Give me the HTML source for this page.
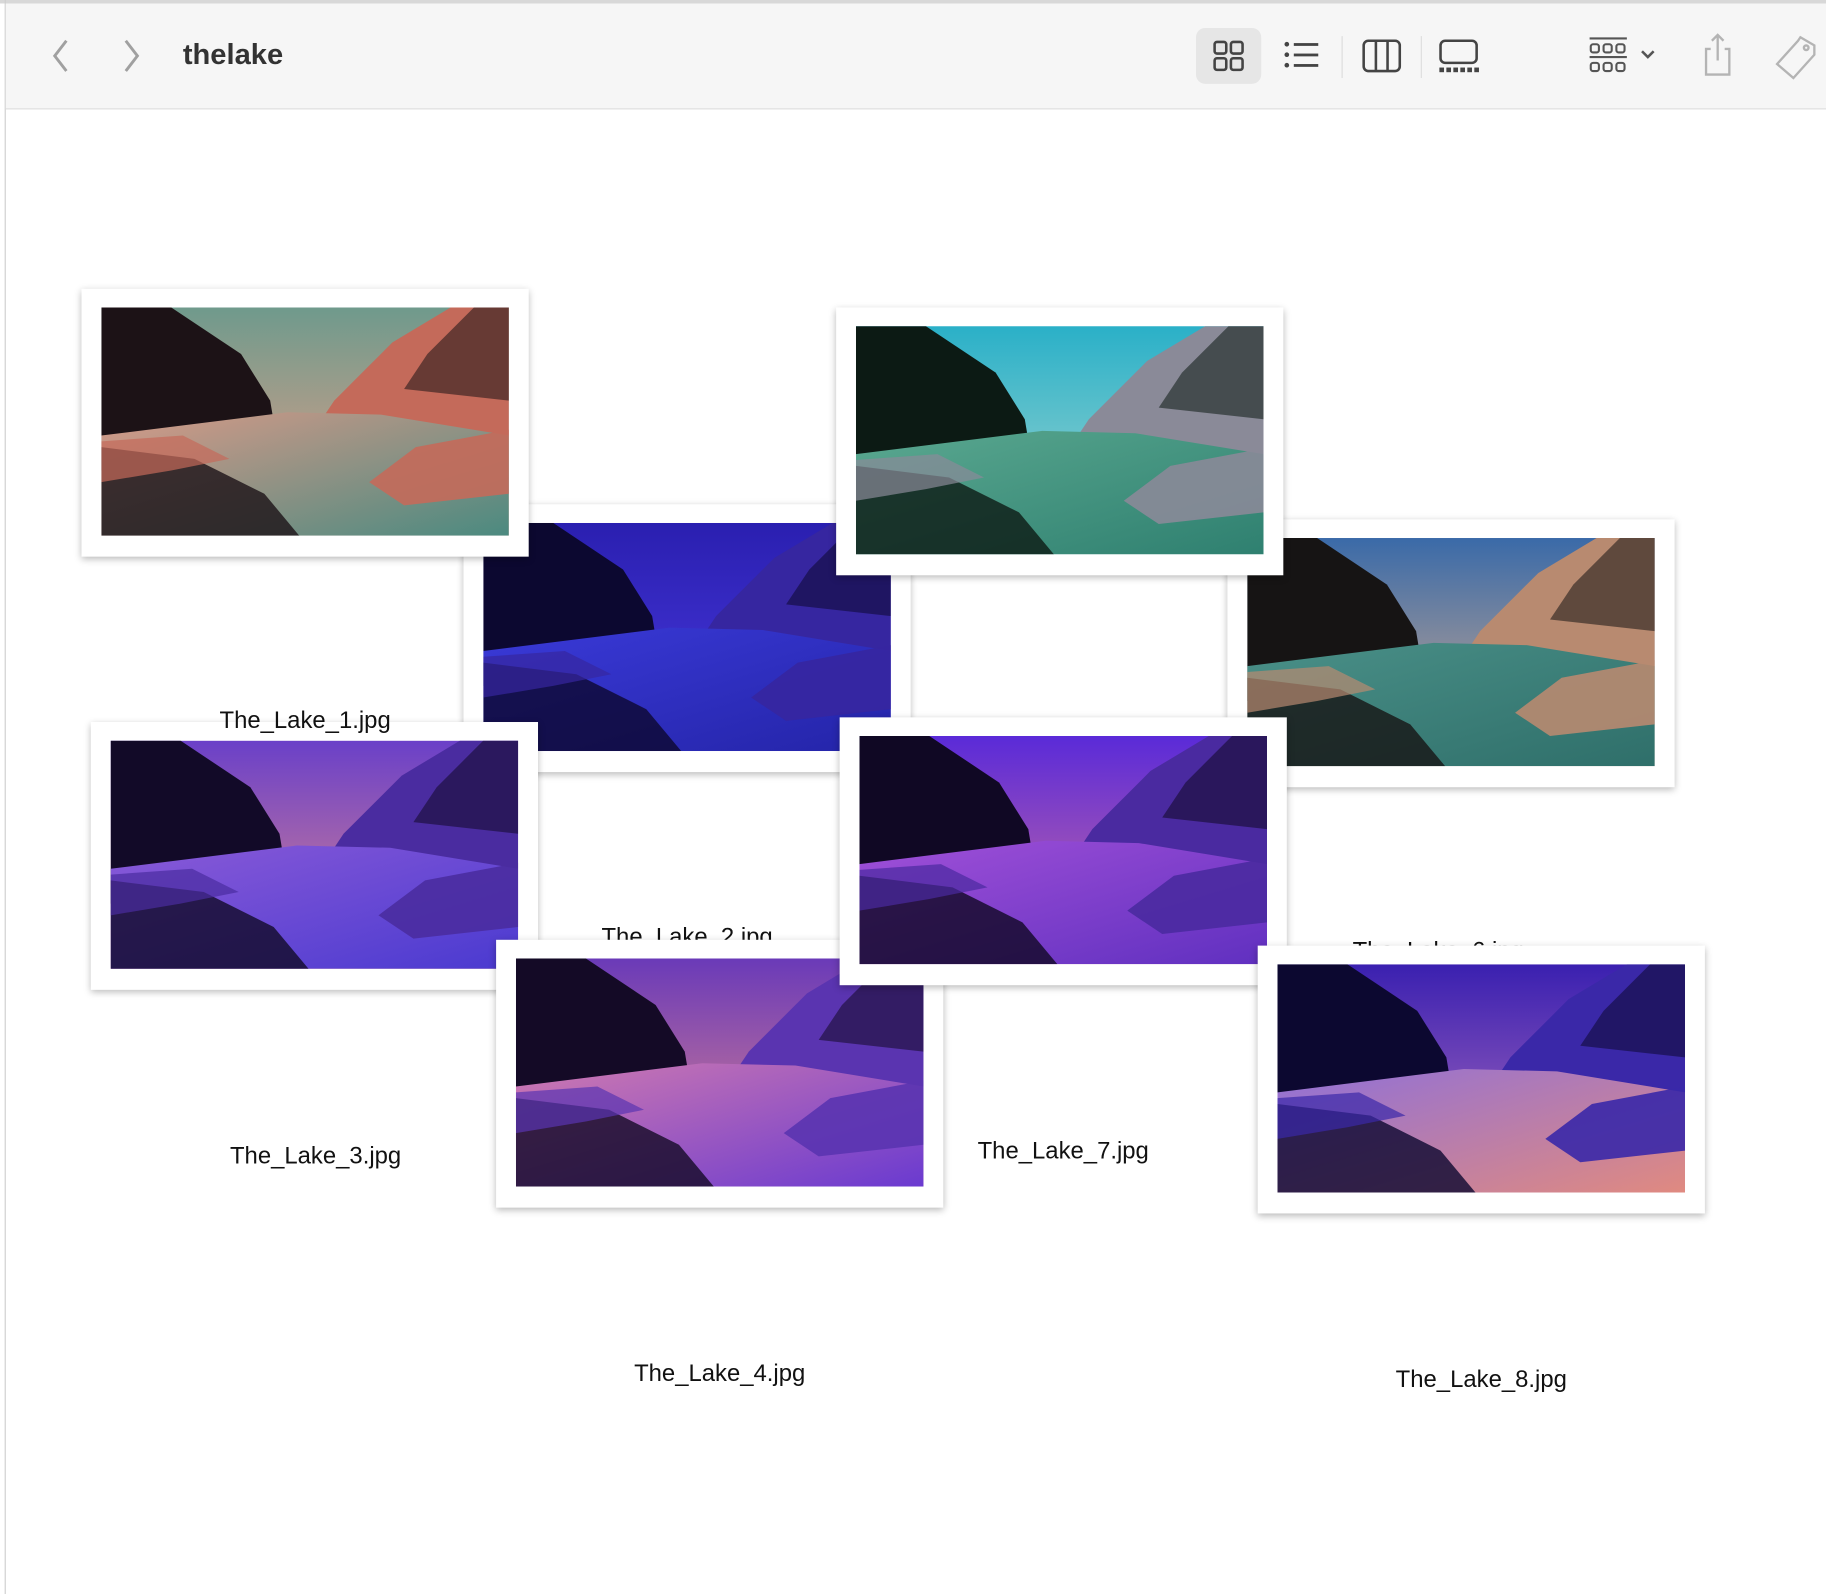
<!DOCTYPE html>
<html><head><meta charset="utf-8">
<style>
html,body{margin:0;padding:0;width:1826px;height:1594px;overflow:hidden;background:#fff;font-family:"Liberation Sans",sans-serif;}
#wrap{position:absolute;left:0;top:0;width:1568px;height:1369px;transform:scale(1.16454);transform-origin:0 0;}
.toolbar{position:absolute;left:5px;top:3px;width:1563px;height:90px;background:#f6f6f6;border-bottom:1px solid #dedede;}
.topline{position:absolute;left:0;top:0;width:1568px;height:3px;background:#d8d8d8;}
.leftline{position:absolute;left:4px;top:0;width:1px;height:1369px;background:#cfcfcf;}
.title{position:absolute;left:152px;top:30px;font-size:25px;font-weight:bold;color:#333;}
.card{position:absolute;width:384px;height:230px;background:#fff;box-shadow:0 2px 6px rgba(0,0,0,0.28);}
.img{position:absolute;left:17px;top:16px;width:350px;height:196px;overflow:hidden;}
.label{position:absolute;font-size:20.5px;color:#111;transform:translateX(-50%);white-space:nowrap;}
.ic{position:absolute;}
</style></head><body>
<div id="wrap">
<div class="topline"></div>
<div class="leftline"></div>
<div class="toolbar">
  <svg class="ic" style="left:38px;top:28px" width="20" height="34"><path d="M14 4 L4 17 L14 30" stroke="#a0a0a0" stroke-width="2.5" fill="none"/></svg>
  <svg class="ic" style="left:98px;top:28px" width="20" height="34"><path d="M5 4 L15 17 L5 30" stroke="#a0a0a0" stroke-width="2.5" fill="none"/></svg>
  <div class="title">thelake</div>
  <div class="ic" style="left:1022px;top:21px;width:56px;height:48px;background:#e6e6e6;border-radius:8px;">
    <svg width="56" height="48"><g fill="none" stroke="#444" stroke-width="2.2"><rect x="16" y="12" width="10" height="10" rx="2"/><rect x="30" y="12" width="10" height="10" rx="2"/><rect x="16" y="26" width="10" height="10" rx="2"/><rect x="30" y="26" width="10" height="10" rx="2"/></g></svg>
  </div>
  <svg class="ic" style="left:1095px;top:28px" width="36" height="32"><g fill="#444"><circle cx="5" cy="7" r="2"/><circle cx="5" cy="16" r="2"/><circle cx="5" cy="25" r="2"/><rect x="11" y="6" width="21" height="2.4"/><rect x="11" y="15" width="21" height="2.4"/><rect x="11" y="24" width="21" height="2.4"/></g></svg>
  <div class="ic" style="left:1147px;top:28px;width:1px;height:36px;background:#ddd"></div>
  <svg class="ic" style="left:1163px;top:28px" width="38" height="34"><g fill="none" stroke="#444" stroke-width="2.2"><rect x="3" y="4" width="31" height="26" rx="4"/><line x1="13.5" y1="4" x2="13.5" y2="30"/><line x1="23.5" y1="4" x2="23.5" y2="30"/></g></svg>
  <div class="ic" style="left:1215px;top:28px;width:1px;height:36px;background:#ddd"></div>
  <svg class="ic" style="left:1228px;top:28px" width="40" height="34"><g fill="none" stroke="#444" stroke-width="2.2"><rect x="4" y="4" width="31" height="19" rx="4"/></g><g fill="#444"><rect x="3" y="27" width="4" height="4"/><rect x="9" y="27" width="4" height="4"/><rect x="15" y="27" width="4" height="4"/><rect x="21" y="27" width="4" height="4"/><rect x="27" y="27" width="4" height="4"/><rect x="33" y="27" width="4" height="4"/></g></svg>
  <svg class="ic" style="left:1355px;top:26px" width="70" height="38"><g fill="none" stroke="#555" stroke-width="1.8"><line x1="5" y1="4" x2="37" y2="4"/><rect x="6" y="9" width="7" height="7" rx="2"/><rect x="17" y="9" width="7" height="7" rx="2"/><rect x="28" y="9" width="7" height="7" rx="2"/><line x1="5" y1="20" x2="37" y2="20"/><rect x="6" y="25" width="7" height="7" rx="2"/><rect x="17" y="25" width="7" height="7" rx="2"/><rect x="28" y="25" width="7" height="7" rx="2"/><path d="M50 15 L55 20 L60 15" stroke-width="2.2"/></g></svg>
  <svg class="ic" style="left:1455px;top:22px" width="30" height="44"><g fill="none" stroke="#b4b4b4" stroke-width="2"><path d="M9 17 H5 V39 H25 V17 H21"/><line x1="15" y1="5" x2="15" y2="27"/><path d="M10 10 L15 5 L20 10"/></g></svg>
  <svg class="ic" style="left:1513px;top:24px" width="45" height="45"><g fill="none" stroke="#b4b4b4" stroke-width="2"><path d="M28 5 L40 12 L40 20 L22 40 L8 28 L26 8 Z"/><circle cx="33" cy="14" r="2"/></g></svg>
</div>

<div class="label" style="left:590px;top:793px">The_Lake_2.jpg</div>
<div class="label" style="left:271px;top:981px">The_Lake_3.jpg</div>
<div class="label" style="left:618px;top:1168px">The_Lake_4.jpg</div>
<div class="label" style="left:1235px;top:805px">The_Lake_6.jpg</div>
<div class="label" style="left:913px;top:977px">The_Lake_7.jpg</div>
<div class="label" style="left:1272px;top:1173px">The_Lake_8.jpg</div>

<div id="cards"></div>
<div class="label" style="left:262px;top:607px;z-index:5">The_Lake_1.jpg</div>
</div>
<script>
const cardsInfo=[
 ['thumb-lake-2',398,433,'#2a1fb0','#4a3ae0','#3a3ad8','#2424a8','#0c0830','#3626a0'],
 ['thumb-lake-1',70,248,'#6f9a8c','#e8a088','#d89a88','#4b8a80','#1c1216','#c46a5a'],
 ['thumb-lake-3',78,620,'#6a40c8','#e08a90','#8a5ad8','#4a3ad0','#120a28','#4a2ca0'],
 ['thumb-lake-4',426,807,'#6a3ab8','#e08890','#d07ab0','#6a3ad0','#140a26','#5a34b0'],
 ['thumb-lake-6',1054,446,'#3a6aa8','#d8b090','#4a9088','#2f6f6a','#161414','#b88a70'],
 ['thumb-lake-5',718,264,'#2ab0c8','#a8d8d0','#5aa890','#2f8070','#0c1a14','#8a8a98'],
 ['thumb-lake-7',721,616,'#5a2ad8','#d070a0','#a050d8','#6030c0','#100824','#4a2aa0'],
 ['thumb-lake-8',1080,812,'#3a20b0','#b070c0','#9070d8','#e08a80','#0c0830','#3a28a8']
];
const host=document.getElementById('cards');
cardsInfo.forEach(c=>{
 const d=document.createElement('div');
 d.className='card';
 
 
 d.style.left=c[1]+'px';d.style.top=c[2]+'px';
 d.innerHTML=`<div class="img"><svg width="350" height="196">
 <defs><linearGradient id="s${c[0]}" x1="0" y1="0" x2="0" y2="1"><stop offset="0" stop-color="${c[3]}"/><stop offset="1" stop-color="${c[4]}"/></linearGradient>
 <linearGradient id="w${c[0]}" x1="0" y1="0" x2="1" y2="1"><stop offset="0" stop-color="${c[5]}"/><stop offset="1" stop-color="${c[6]}"/></linearGradient></defs>
 <rect width="350" height="196" fill="url(#s${c[0]})"/>
 <polygon points="0,0 60,0 120,40 145,80 150,110 0,140" fill="${c[7]}"/>
 <polygon points="350,0 300,0 250,30 200,80 190,95 350,110" fill="${c[8]}"/>
 <polygon points="350,0 320,0 280,40 260,70 350,80" fill="${c[7]}" opacity="0.55"/>
 <polygon points="0,110 160,90 240,92 350,110 350,196 0,196" fill="url(#w${c[0]})"/>
 <polygon points="0,120 80,130 140,160 170,196 0,196" fill="${c[7]}" opacity="0.8"/>
 <polygon points="350,105 270,120 230,150 260,170 350,160" fill="${c[8]}" opacity="0.9"/>
 <polygon points="0,115 70,110 110,130 60,140 0,150" fill="${c[8]}" opacity="0.7"/>
 </svg></div>`;
 host.appendChild(d);
});
</script>
</body></html>
